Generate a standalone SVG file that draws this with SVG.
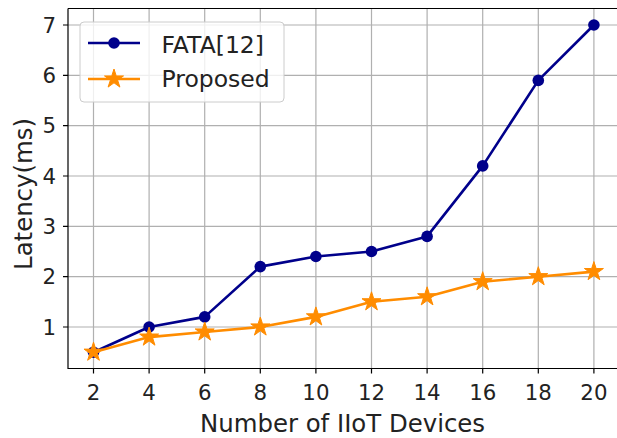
<svg xmlns="http://www.w3.org/2000/svg" xmlns:xlink="http://www.w3.org/1999/xlink" width="617" height="438" viewBox="0 0 617 438">
<style>
.grid{stroke:#b0b0b0;stroke-width:1.2;fill:none}
.spine{stroke:#000;stroke-width:1.2;fill:none}
.tick{stroke:#000;stroke-width:1.2}
.tl{font-family:"DejaVu Sans",sans-serif;font-size:21.3px;fill:#222}
.lab{font-family:"DejaVu Sans",sans-serif;font-size:24.4px;fill:#222}
.leg{font-family:"DejaVu Sans",sans-serif;font-size:23.5px;fill:#222}
.fata{stroke:#00008b;stroke-width:2.6;fill:none;stroke-linejoin:round}
.prop{stroke:#ff8c00;stroke-width:2.6;fill:none;stroke-linejoin:round}
.dot{fill:#00008b}
.star{fill:#ff8c00;stroke:#ff8c00;stroke-width:1}
</style>
<defs>
<circle id="d" r="5.8" class="dot"/>
<path id="s" class="star" d="M0,-10 L2.245,-3.09 L9.511,-3.09 L3.633,1.18 L5.878,8.09 L0,3.82 L-5.878,8.09 L-3.633,1.18 L-9.511,-3.09 L-2.245,-3.09 Z"/>
</defs>
<rect width="617" height="438" fill="#fff"/>
<g id="grid" class="grid">
<path d="M93.5,8.5V368.5M149.1,8.5V368.5M204.7,8.5V368.5M260.3,8.5V368.5M315.9,8.5V368.5M371.5,8.5V368.5M427.1,8.5V368.5M482.7,8.5V368.5M538.3,8.5V368.5M593.9,8.5V368.5"/>
<path d="M68,327H617M68,276.7H617M68,226.3H617M68,176H617M68,125.7H617M68,75.3H617M68,25H617"/>
</g>
<g id="axes">
<path class="spine" d="M68,8.5H617M68,8.5V368.5H617"/>
<path class="tick" d="M93.5,368.5v5M149.1,368.5v5M204.7,368.5v5M260.3,368.5v5M315.9,368.5v5M371.5,368.5v5M427.1,368.5v5M482.7,368.5v5M538.3,368.5v5M593.9,368.5v5"/>
<path class="tick" d="M63,327h5M63,276.7h5M63,226.3h5M63,176h5M63,125.7h5M63,75.3h5M63,25h5"/>
<g class="tl" text-anchor="middle">
<text x="93.5" y="400">2</text><text x="149.1" y="400">4</text><text x="204.7" y="400">6</text><text x="260.3" y="400">8</text><text x="315.9" y="400">10</text><text x="371.5" y="400">12</text><text x="427.1" y="400">14</text><text x="482.7" y="400">16</text><text x="538.3" y="400">18</text><text x="593.9" y="400">20</text>
</g>
<g class="tl" text-anchor="end">
<text x="56" y="334.5">1</text><text x="56" y="284.2">2</text><text x="56" y="233.8">3</text><text x="56" y="183.5">4</text><text x="56" y="133.2">5</text><text x="56" y="82.8">6</text><text x="56" y="32.5">7</text>
</g>
<text class="lab" x="342.5" y="432" text-anchor="middle">Number of IIoT Devices</text>
<text class="lab" transform="translate(31.5,194) rotate(-90)" text-anchor="middle">Latency(ms)</text>
</g>
<g id="connectors">
<polyline class="fata" points="93.5,352.2 149.1,327 204.7,316.9 260.3,266.6 315.9,256.5 371.5,251.5 427.1,236.4 482.7,165.9 538.3,80.4 593.9,25"/>
<g id="fata-markers">
<use xlink:href="#d" x="93.5" y="352.2"/><use xlink:href="#d" x="149.1" y="327"/><use xlink:href="#d" x="204.7" y="316.9"/><use xlink:href="#d" x="260.3" y="266.6"/><use xlink:href="#d" x="315.9" y="256.5"/><use xlink:href="#d" x="371.5" y="251.5"/><use xlink:href="#d" x="427.1" y="236.4"/><use xlink:href="#d" x="482.7" y="165.9"/><use xlink:href="#d" x="538.3" y="80.4"/><use xlink:href="#d" x="593.9" y="25"/>
</g>
<polyline class="prop" points="93.5,352.2 149.1,337.1 204.7,332 260.3,327 315.9,316.9 371.5,301.8 427.1,296.8 482.7,281.7 538.3,276.7 593.9,271.6"/>
<g id="prop-markers">
<use xlink:href="#s" x="93.5" y="352.2"/><use xlink:href="#s" x="149.1" y="337.1"/><use xlink:href="#s" x="204.7" y="332"/><use xlink:href="#s" x="260.3" y="327"/><use xlink:href="#s" x="315.9" y="316.9"/><use xlink:href="#s" x="371.5" y="301.8"/><use xlink:href="#s" x="427.1" y="296.8"/><use xlink:href="#s" x="482.7" y="281.7"/><use xlink:href="#s" x="538.3" y="276.7"/><use xlink:href="#s" x="593.9" y="271.6"/>
</g>
</g>
<g id="legend">
<rect x="80" y="22" width="204" height="80" rx="4" fill="#fff" fill-opacity="0.8" stroke="#ccc" stroke-width="1"/>
<path class="fata" d="M88,43H140"/><use xlink:href="#d" x="114" y="43"/>
<path class="prop" d="M88,79H140"/><use xlink:href="#s" x="114" y="79"/>
<text class="leg" x="161.5" y="53">FATA[12]</text>
<text class="leg" x="161.5" y="86.5">Proposed</text>
</g>
</svg>
